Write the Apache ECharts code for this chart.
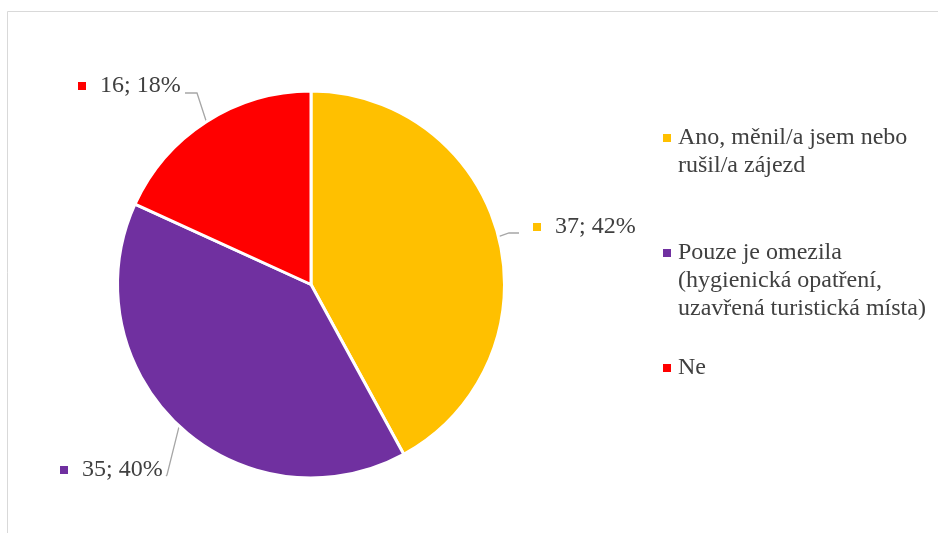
<!DOCTYPE html>
<html>
<head>
<meta charset="utf-8">
<script src="https://cdn.jsdelivr.net/npm/echarts@6/dist/echarts.min.js"></script>
<style>
  html, body { margin: 0; padding: 0; background: #fff; }
  #chart { width: 938px; height: 533px; }
</style>
</head>
<body>
<div id="chart"></div>
<script>
// Answer categories (legend text split into its display lines)
const legendLines = [
  ['Ano, měnil/a jsem nebo', 'rušil/a zájezd'],
  ['Pouze je omezila', '(hygienická opatření,', 'uzavřená turistická místa)'],
  ['Ne']
];
const categories = legendLines.map(l => l.join(' '));
// Number of respondents per answer
const values = [37, 35, 16];
const colors = ['#FFC000', '#7030A0', '#FF0000'];

const FONT = "'Liberation Serif', 'Times New Roman', serif";
const TEXT = '#404040';

// Legend entries are laid out one component each so every entry can sit at its own height
const legendTops = [126, 241, 356];
const legendRich = {
  t: { fontFamily: FONT, fontSize: 24, lineHeight: 28, color: TEXT },
  g: { width: 7, height: 8 },
  s: { width: 15, height: 8 }
};
colors.forEach((c, i) => { legendRich['m' + i] = { width: 8, height: 8, backgroundColor: c }; });

const legends = categories.map((name, i) => ({
  data: [name],
  left: 658,
  top: legendTops[i],
  padding: 0,
  icon: 'none',
  itemWidth: 0,
  itemHeight: 0,
  selectedMode: false,
  formatter: () => legendLines[i]
    .map((line, k) => (k === 0 ? `{m${i}|}{g|}` : '{s|}') + `{t|${line}}`)
    .join('\n'),
  textStyle: { rich: legendRich }
}));

// Data label placement: anchor (left, middle) and the leader line's bend/end points
const labelAnchors = [
  { x: 533, y: 227, bend: [509, 233], end: [519, 233] },
  { x: 60, y: 470, bend: [167, 475], end: [166, 476] },
  { x: 78, y: 86, bend: [197, 93], end: [185, 93] }
];

const labelRich = {
  v: { fontFamily: FONT, fontSize: 24, lineHeight: 28, color: TEXT },
  g: { width: 14, height: 8 }
};
colors.forEach((c, i) => { labelRich['m' + i] = { width: 8, height: 8, backgroundColor: c }; });

const chart = echarts.init(document.getElementById('chart'), null, { renderer: 'canvas' });
chart.setOption({
  animation: false,
  backgroundColor: '#ffffff',
  graphic: [{
    type: 'rect',
    silent: true,
    shape: { x: 7.5, y: 11.5, width: 931, height: 600 },
    style: { fill: 'none', stroke: '#d9d9d9', lineWidth: 1 }
  }],
  legend: legends,
  series: [{
    type: 'pie',
    center: [311, 284.5],
    radius: 193.5,
    startAngle: 90,
    clockwise: true,
    percentPrecision: 0,
    avoidLabelOverlap: false,
    color: colors,
    itemStyle: { borderColor: '#ffffff', borderWidth: 3 },
    emphasis: { disabled: true },
    label: {
      show: true,
      position: 'outside',
      formatter: p => `{m${p.dataIndex}|}{g|}{v|${p.value}; ${p.percent}%}`,
      rich: labelRich
    },
    labelLine: {
      show: true,
      length: 15,
      length2: 10,
      lineStyle: { color: '#a6a6a6', width: 1.3 }
    },
    labelLayout: params => {
      const a = labelAnchors[params.dataIndex];
      const start = params.labelLinePoints ? params.labelLinePoints[0] : a.bend;
      return {
        x: a.x,
        y: a.y,
        align: 'left',
        verticalAlign: 'middle',
        labelLinePoints: [start, a.bend, a.end]
      };
    },
    data: categories.map((name, i) => ({ name, value: values[i] }))
  }]
});
</script>
</body>
</html>
